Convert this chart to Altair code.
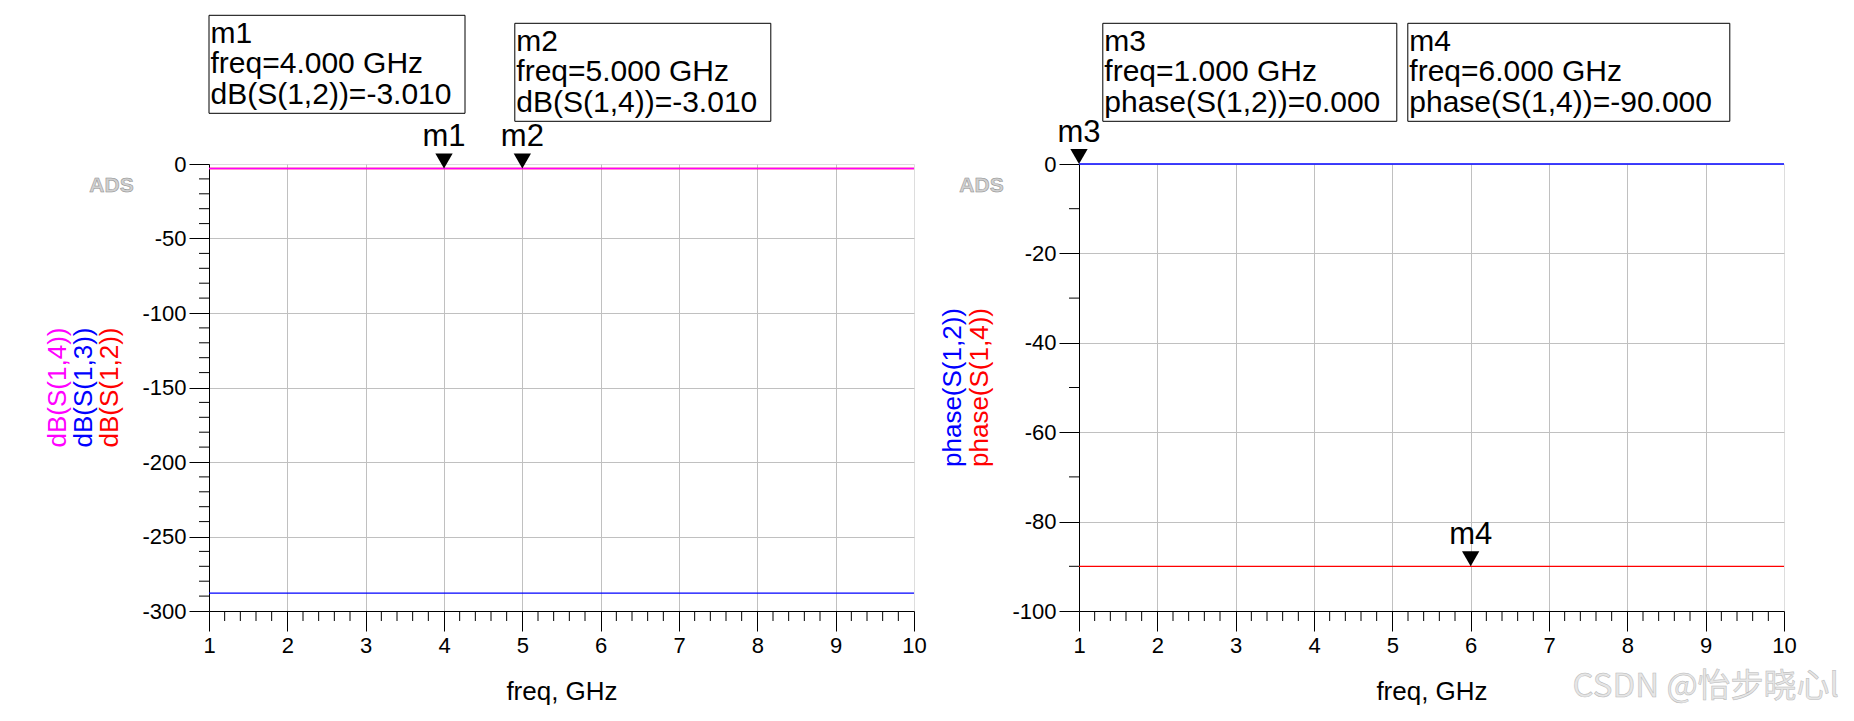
import altair as alt
import pandas as pd

FONT = "Liberation Sans"

# ---------------- data ----------------
freq_ghz = [1.0, 2.0, 3.0, 4.0, 5.0, 6.0, 7.0, 8.0, 9.0, 10.0]
db_s12 = [-3.010, -3.010, -3.010, -3.010, -3.010, -3.010, -3.010, -3.010, -3.010, -3.010]
db_s13 = [-288.0, -288.0, -288.0, -288.0, -288.0, -288.0, -288.0, -288.0, -288.0, -288.0]
db_s14 = [-3.010, -3.010, -3.010, -3.010, -3.010, -3.010, -3.010, -3.010, -3.010, -3.010]
ph_s12 = [0.0, 0.0, 0.0, 0.0, 0.0, 0.0, 0.0, 0.0, 0.0, 0.0]
ph_s14 = [-90.0, -90.0, -90.0, -90.0, -90.0, -90.0, -90.0, -90.0, -90.0, -90.0]

x_major = [1, 2, 3, 4, 5, 6, 7, 8, 9, 10]
x_minor = [1.2, 1.4, 1.6, 1.8, 2.2, 2.4, 2.6, 2.8, 3.2, 3.4, 3.6, 3.8,
           4.2, 4.4, 4.6, 4.8, 5.2, 5.4, 5.6, 5.8, 6.2, 6.4, 6.6, 6.8,
           7.2, 7.4, 7.6, 7.8, 8.2, 8.4, 8.6, 8.8, 9.2, 9.4, 9.6, 9.8]
db_major = [0, -50, -100, -150, -200, -250, -300]
db_minor = [-10, -20, -30, -40, -60, -70, -80, -90, -110, -120, -130, -140,
            -160, -170, -180, -190, -210, -220, -230, -240, -260, -270, -280, -290]
ph_major = [0, -20, -40, -60, -80, -100]
ph_minor = [-10, -30, -50, -70, -90]

marker_names = ["m1", "m2", "m3", "m4"]
marker_freq = [4.000, 5.000, 1.000, 6.000]
marker_expr = ["dB(S(1,2))", "dB(S(1,4))", "phase(S(1,2))", "phase(S(1,4))"]
marker_val = [-3.010, -3.010, 0.000, -90.000]

# ---------------- layout constants ----------------
W, H = 705, 447


def one_row():
    return pd.DataFrame({"k": [0]})


def make_panel(series, ydomain, ymajor, yminor, marker_idx, boxes, titles, ads_x, extra=None):
    xs = alt.Scale(domain=[1, 10], nice=False, zero=False)
    ys = alt.Scale(domain=ydomain, nice=False, zero=False)
    lo, hi = min(ydomain), max(ydomain)
    x_axis = alt.Axis(
        values=x_major, labelExpr="'' + datum.value", title="freq, GHz",
        tickSize=20, tickColor="black", tickWidth=1, domainColor="black", domainWidth=1,
        labelPadding=4, labelFontSize=22, labelFont=FONT, labelColor="black",
        labelFlush=False, labelOverlap=False,
        titleFont=FONT, titleFontSize=26, titleFontWeight="normal", titleColor="black",
        titlePadding=22,
        grid=True, gridWidth=1,
        gridColor={"condition": {"test": "datum.value == 1 || datum.value == 10", "value": "transparent"},
                   "value": "#c0c0c0"},
    )
    y_axis = alt.Axis(
        values=ymajor, labelExpr="'' + datum.value", title=None,
        tickSize=20, tickColor="black", tickWidth=1, domainColor="black", domainWidth=1,
        labelPadding=3, labelFontSize=22, labelFont=FONT, labelColor="black",
        labelFlush=False, labelOverlap=False,
        grid=True, gridWidth=1,
        gridColor={"condition": {"test": f"datum.value == {lo} || datum.value == {hi}", "value": "transparent"},
                   "value": "#c0c0c0"},
    )
    X = lambda f: alt.X(f, type="quantitative", scale=xs, axis=x_axis)
    Y = lambda f: alt.Y(f, type="quantitative", scale=ys, axis=y_axis)

    layers = []
    for vals, color in series:
        df = pd.DataFrame({"f": freq_ghz, "v": vals})
        layers.append(alt.Chart(df).mark_line(color=color, strokeWidth=1.3).encode(x=X("f"), y=Y("v")))

    # minor ticks
    layers.append(alt.Chart(pd.DataFrame({"f": x_minor})).mark_rule(color="black", strokeWidth=1).encode(
        x=X("f"), y=alt.value(H), y2=alt.value(H + 10)))
    layers.append(alt.Chart(pd.DataFrame({"v": yminor})).mark_rule(color="black", strokeWidth=1).encode(
        y=Y("v"), x=alt.value(0), x2=alt.value(-10)))

    # markers
    mdf = pd.DataFrame({
        "f": [marker_freq[i] for i in marker_idx],
        "v": [marker_val[i] for i in marker_idx],
        "name": [marker_names[i] for i in marker_idx],
    })
    layers.append(alt.Chart(mdf).mark_point(shape="triangle-down", filled=True, color="black",
                                            opacity=1, size=300, yOffset=-7.5).encode(x=X("f"), y=Y("v")))
    layers.append(alt.Chart(mdf).mark_text(fontSize=31, font=FONT, color="black", dy=-22,
                                           baseline="alphabetic", align="center").encode(
        x=X("f"), y=Y("v"), text="name:N"))

    # readout boxes
    for i, (x0, x1, y0, y1) in zip(marker_idx, boxes):
        label = f"{marker_names[i]}\nfreq={marker_freq[i]:.3f} GHz\n{marker_expr[i]}={marker_val[i]:.3f}"
        bdf = pd.DataFrame({"label": [label]})
        layers.append(alt.Chart(bdf).mark_rect(fill="white", stroke="black", strokeWidth=1).encode(
            x=alt.value(x0), x2=alt.value(x1), y=alt.value(y0), y2=alt.value(y1)))
        layers.append(alt.Chart(bdf).mark_text(align="left", baseline="alphabetic", lineBreak="\n",
                                               lineHeight=30.2, fontSize=30, font=FONT, color="black").encode(
            x=alt.value(x0 + 1.5), y=alt.value(y0 + 28), text="label:N"))

    # coloured y titles
    for txt, color, xp in titles:
        layers.append(alt.Chart(one_row()).mark_text(angle=270, fontSize=26, font=FONT, color=color,
                                                     align="center", baseline="middle").encode(
            x=alt.value(xp), y=alt.value(H / 2), text=alt.value(txt)))

    # ADS logo
    layers.append(alt.Chart(one_row()).mark_text(fontSize=21, font=FONT, fontWeight="bold",
                                                 fill="#d0d0d0", stroke="#8a8a8a", strokeWidth=0.5,
                                                 align="center", baseline="alphabetic").encode(
        x=alt.value(ads_x), y=alt.value(28), text=alt.value("ADS")))

    if extra is not None:
        layers.extend(extra)

    return alt.layer(*layers).properties(width=W, height=H)


left = make_panel(
    series=[(db_s12, "#ff0000"), (db_s13, "#0000ff"), (db_s14, "#ff00ff")],
    ydomain=[-300, 0], ymajor=db_major, yminor=db_minor,
    marker_idx=[0, 1],
    boxes=[(0, 256, -148.7, -50.7), (305.8, 561.8, -140.7, -42.7)],
    titles=[("dB(S(1,4))", "#ff00ff", -151.5), ("dB(S(1,3))", "#0000ff", -125.5), ("dB(S(1,2))", "#ff0000", -99.5)],
    ads_x=-97.5,
)

watermark = [alt.Chart(one_row()).mark_text(fontSize=33, font="Noto Sans CJK SC", fill="#e6e6e6",
                                            stroke="#b8b8b8", strokeWidth=0.5,
                                            align="right", baseline="alphabetic").encode(
    x=alt.value(760), y=alt.value(533), text=alt.value("CSDN @怡步晓心l"))]

right = make_panel(
    series=[(ph_s14, "#ff0000"), (ph_s12, "#0000ff")],
    ydomain=[-100, 0], ymajor=ph_major, yminor=ph_minor,
    marker_idx=[2, 3],
    boxes=[(23.8, 317.8, -140.7, -42.7), (328.8, 650.8, -140.7, -42.7)],
    titles=[("phase(S(1,2))", "#0000ff", -126.5), ("phase(S(1,4))", "#ff0000", -99.5)],
    ads_x=-97.5,
    extra=watermark,
)

chart = alt.hconcat(left, right, spacing=165, bounds="flush").configure_view(
    stroke="black", strokeWidth=1
).configure(font=FONT).properties(
    padding={"left": 44, "top": 14, "right": 4, "bottom": 10}, background="white"
)

chart.save("out.html", embed_options={"renderer": "svg", "actions": False})
